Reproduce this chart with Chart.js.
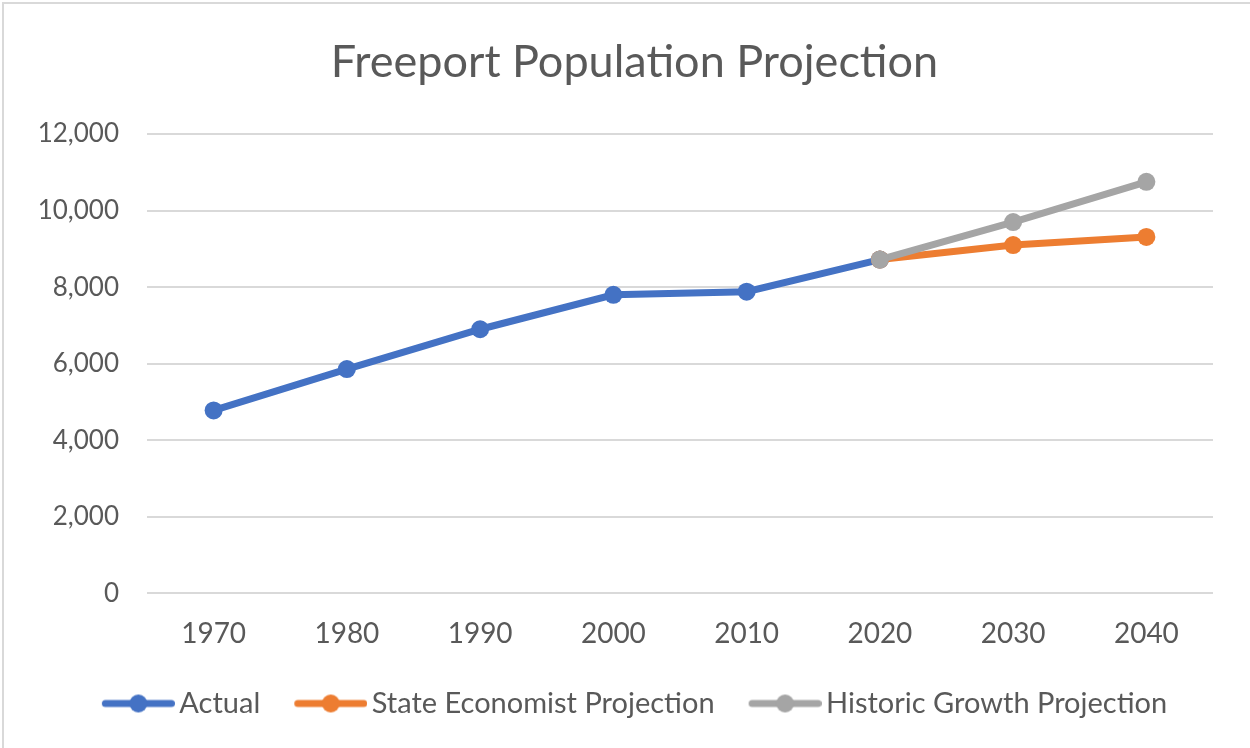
<!DOCTYPE html>
<html>
<head>
<meta charset="utf-8">
<script src="https://cdn.jsdelivr.net/npm/chart.js@4/dist/chart.umd.min.js"></script>
<style>
  html, body { margin: 0; padding: 0; background: #fff; }
  #wrap { width: 1250px; height: 748px; position: relative; }
</style>
</head>
<body>
<div id="wrap"><canvas id="popChart" width="1250" height="748"></canvas></div>
<script>
// Data
const years = ['1970', '1980', '1990', '2000', '2010', '2020', '2030', '2040'];
const actual = [4780, 5860, 6900, 7800, 7880, 8720, null, null];
const stateProjection = [null, null, null, null, null, 8720, 9100, 9310];
const historicProjection = [null, null, null, null, null, 8720, 9700, 10750];
const seriesNames = ['Actual', 'State Economist Projection', 'Historic Growth Projection'];
const seriesColors = ['#4472c4', '#ed7d31', '#a5a5a5'];

const textColor = '#595959';
const fontFamily = 'Lato, "Open Sans", sans-serif';

// Legend marker: line with a dot in the middle (Excel style)
// left part of the image is transparent so the text sits close to the line
function legendMarker(color) {
    const c = document.createElement('canvas');
    c.width = 83;
    c.height = 20;
    const g = c.getContext('2d');
    g.strokeStyle = color;
    g.lineWidth = 7;
    g.lineCap = 'round';
    g.beginPath();
    g.moveTo(13.5, 10);
    g.lineTo(79.5, 10);
    g.stroke();
    g.fillStyle = color;
    g.beginPath();
    g.arc(46.5, 10, 9, 0, Math.PI * 2);
    g.fill();
    return c;
}

// Frame around the chart, and centre title + legend on the whole canvas
const framePlugin = {
    id: 'frame',
    afterLayout(chart) {
        const shift = 28;
        [chart.titleBlock, chart.legend].forEach(box => {
            if (!box) return;
            box.left += shift;
            box.right += shift;
        });
    },
    beforeDraw(chart) {
        const ctx = chart.ctx;
        ctx.save();
        ctx.fillStyle = '#fff';
        ctx.fillRect(0, 0, chart.width, chart.height);
        ctx.strokeStyle = '#d9d9d9';
        ctx.lineWidth = 2;
        ctx.strokeRect(3, 3, chart.width, chart.height);
        ctx.restore();
    }
};

function makeDataset(i, values) {
    return {
        label: seriesNames[i],
        data: values,
        borderColor: seriesColors[i],
        backgroundColor: seriesColors[i],
        borderWidth: 7,
        pointRadius: 9,
        pointHoverRadius: 9,
        pointBorderWidth: 0,
        tension: 0,
        order: 3 - i
    };
}

const ctx = document.getElementById('popChart').getContext('2d');
new Chart(ctx, {
    type: 'line',
    data: {
        labels: years,
        datasets: [
            makeDataset(0, actual),
            makeDataset(1, stateProjection),
            makeDataset(2, historicProjection)
        ]
    },
    options: {
        responsive: false,
        animation: false,
        layout: { padding: { left: 0, right: 37, top: 0, bottom: 20 } },
        plugins: {
            title: {
                display: true,
                text: 'Freeport Population Projection',
                color: textColor,
                font: { family: fontFamily, size: 45, weight: 'normal' },
                padding: { top: 35, bottom: 45 }
            },
            legend: {
                position: 'bottom',
                labels: {
                    color: textColor,
                    font: { family: fontFamily, size: 29 },
                    usePointStyle: true,
                    pointStyleWidth: 63,
                    boxHeight: 20,
                    padding: 34,
                    generateLabels(chart) {
                        return chart.data.datasets.map((ds, i) => ({
                            text: ds.label,
                            pointStyle: legendMarker(seriesColors[i]),
                            fillStyle: seriesColors[i],
                            strokeStyle: seriesColors[i],
                            lineWidth: 0,
                            fontColor: textColor,
                            datasetIndex: i,
                            hidden: false
                        }));
                    }
                }
            },
            tooltip: { enabled: false }
        },
        scales: {
            x: {
                offset: true,
                grid: { display: false, drawTicks: false },
                border: { display: false },
                ticks: {
                    color: textColor,
                    font: { family: fontFamily, size: 28 },
                    padding: 24,
                    maxRotation: 0
                },
                afterFit(scale) { scale.height = scale.height - 20; }
            },
            y: {
                min: 0,
                max: 12000,
                grid: { color: '#d9d9d9', lineWidth: 2, drawTicks: false },
                border: { display: false },
                ticks: {
                    stepSize: 2000,
                    color: textColor,
                    font: { family: fontFamily, size: 26 },
                    padding: 28,
                    callback: v => v.toLocaleString('en-US')
                },
                afterFit(scale) { scale.width = 147; }
            }
        }
    },
    plugins: [framePlugin]
});
</script>
</body>
</html>
